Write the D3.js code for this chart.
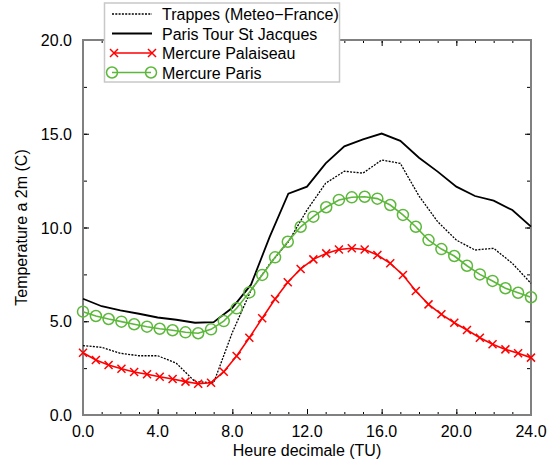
<!DOCTYPE html>
<html>
<head>
<meta charset="utf-8">
<script src="https://cdn.jsdelivr.net/npm/d3@7"></script>
<style>
    body { margin: 0; background: #fff; }
    text { font-family: "Liberation Sans", Arial, sans-serif; }
</style>
</head>
<body>
<div id="chart"></div>
<script>
// hourly stations
const hours = [0, 1, 2, 3, 4, 5, 6, 7, 8, 9, 10, 11, 12, 13, 14, 15, 16, 17, 18, 19, 20, 21, 22, 23, 24];
const trappes = [3.70, 3.61, 3.29, 3.16, 3.16, 2.76, 1.78, 1.72, 4.40, 6.65, 8.05, 9.24, 10.93, 12.36, 13.00, 12.90, 13.60, 13.42, 11.68, 10.31, 9.33, 8.80, 8.89, 8.09, 7.02];
const tourStJacques = [6.20, 5.80, 5.58, 5.40, 5.20, 5.08, 4.92, 4.95, 5.72, 6.95, 9.50, 11.80, 12.18, 13.42, 14.33, 14.70, 15.01, 14.62, 13.72, 12.98, 12.18, 11.68, 11.43, 10.93, 10.05];

// model output (Mercure)
const modelHours = [0, 0.69, 1.37, 2.06, 2.74, 3.43, 4.11, 4.80, 5.49, 6.17, 6.86, 7.54, 8.23, 8.91, 9.60, 10.29, 10.97, 11.66,
    12.34, 13.03, 13.71, 14.40, 15.09, 15.77, 16.46, 17.14, 17.83, 18.51, 19.20, 19.89, 20.57, 21.26, 21.94, 22.63, 23.31, 24.0];
const mercurePalaiseau = [3.32, 2.93, 2.67, 2.47, 2.29, 2.17, 2.04, 1.92, 1.78, 1.67, 1.72, 2.31, 3.15, 4.12, 5.16, 6.19, 7.08, 7.79,
    8.30, 8.62, 8.83, 8.89, 8.83, 8.53, 8.09, 7.47, 6.61, 5.90, 5.37, 4.92, 4.53, 4.12, 3.77, 3.50, 3.29, 3.06];
const mercureParis = [5.51, 5.28, 5.12, 4.98, 4.84, 4.71, 4.60, 4.52, 4.41, 4.36, 4.57, 5.01, 5.69, 6.54, 7.47, 8.41, 9.24, 10.04,
    10.58, 11.08, 11.47, 11.61, 11.64, 11.54, 11.20, 10.67, 10.04, 9.33, 8.85, 8.48, 7.96, 7.50, 7.15, 6.76, 6.52, 6.28];

const xTicks = [0, 4, 8, 12, 16, 20, 24];
const yTicks = [0, 5, 10, 15, 20];
const legendNames = ["Trappes (Meteo\u2212France)", "Paris Tour St Jacques", "Mercure Palaiseau", "Mercure Paris"];

const W = 548, H = 463;
let margin = {top: 40, right: 17, bottom: 48, left: 83},
    width = W - margin.left - margin.right,
    height = H - margin.top - margin.bottom;

let svg = d3.select("#chart")
    .append("svg")
    .attr("width", W)
    .attr("height", H)
    .append("g")
    .attr("transform", "translate(" + margin.left + "," + margin.top + ")");

let x = d3.scaleLinear().domain([0, 24]).range([0, width]);
let y = d3.scaleLinear().domain([0, 20]).range([height, 0]);

const GREEN = "#5cb83a", RED = "#ff0000";

// minor + major ticks, inward, on all four sides
function tickAxes(axisFn, scale, vals, len, transform) {
    svg.append("g")
        .attr("transform", transform)
        .call(axisFn(scale).tickValues(vals).tickSize(-len).tickFormat(""))
        .call(g => g.select(".domain").remove())
        .selectAll("line").attr("stroke", "#000").attr("stroke-width", 1);
}
let minorX = d3.range(0, 25, 1), minorY = d3.range(0, 20.1, 2.5);
tickAxes(d3.axisBottom, x, minorX, 3, "translate(0," + height + ")");
tickAxes(d3.axisTop, x, minorX, 3, "translate(0,0)");
tickAxes(d3.axisLeft, y, minorY, 4, "translate(0,0)");
tickAxes(d3.axisRight, y, minorY, 4, "translate(" + width + ",0)");
tickAxes(d3.axisBottom, x, xTicks, 6, "translate(0," + height + ")");
tickAxes(d3.axisTop, x, xTicks, 6, "translate(0,0)");
tickAxes(d3.axisLeft, y, yTicks, 6, "translate(0,0)");
tickAxes(d3.axisRight, y, yTicks, 6, "translate(" + width + ",0)");

// frame
svg.append("rect")
    .attr("width", width).attr("height", height)
    .attr("fill", "none").attr("stroke", "#808080").attr("stroke-width", 2);

// tick labels
svg.selectAll(".xl").data(xTicks).enter().append("text")
    .attr("x", d => x(d)).attr("y", height + 22)
    .attr("text-anchor", "middle").attr("font-size", 16)
    .text(d => d.toFixed(1));
svg.selectAll(".yl").data(yTicks).enter().append("text")
    .attr("x", -11).attr("y", d => y(d) + 6)
    .attr("text-anchor", "end").attr("font-size", 16)
    .text(d => d.toFixed(1));

// axis titles
svg.append("text")
    .attr("x", width / 2).attr("y", height + 41)
    .attr("text-anchor", "middle").attr("font-size", 16)
    .text("Heure decimale (TU)");
svg.append("text")
    .attr("transform", "translate(" + (27 - margin.left) + "," + (height / 2) + ") rotate(-90)")
    .attr("text-anchor", "middle").attr("font-size", 16)
    .text("Temperature a 2m (C)");

// lines
let line = d3.line().x(d => x(d[0])).y(d => y(d[1]));
let obsT = d3.zip(hours, trappes), obsP = d3.zip(hours, tourStJacques);
let modPal = d3.zip(modelHours, mercurePalaiseau), modPar = d3.zip(modelHours, mercureParis);

svg.append("path").datum(obsT).attr("d", line)
    .attr("fill", "none").attr("stroke", "#000").attr("stroke-width", 1.3).attr("stroke-dasharray", "2,1.3");
svg.append("path").datum(obsP).attr("d", line)
    .attr("fill", "none").attr("stroke", "#000").attr("stroke-width", 1.8);

function crosses(g, pts, s) {
    g.selectAll(".cx").data(pts).enter().append("path")
        .attr("d", d => {
            let cx = x(d[0]), cy = y(d[1]);
            return "M" + (cx - s) + "," + (cy - s) + "L" + (cx + s) + "," + (cy + s) +
                "M" + (cx - s) + "," + (cy + s) + "L" + (cx + s) + "," + (cy - s);
        })
        .attr("stroke", RED).attr("stroke-width", 1.5);
}

let gPal = svg.append("g");
gPal.append("path").datum(modPal).attr("d", line)
    .attr("fill", "none").attr("stroke", RED).attr("stroke-width", 1.6);
crosses(gPal, modPal, 4);

let gPar = svg.append("g");
gPar.append("path").datum(modPar).attr("d", line)
    .attr("fill", "none").attr("stroke", GREEN).attr("stroke-width", 1.6);
gPar.selectAll("circle").data(modPar).enter().append("circle")
    .attr("cx", d => x(d[0])).attr("cy", d => y(d[1])).attr("r", 5.5)
    .attr("fill", "none").attr("stroke", GREEN).attr("stroke-width", 1.5);

// legend
let leg = d3.select("svg").append("g");
leg.append("rect")
    .attr("x", 104.5).attr("y", 3).attr("width", 235).attr("height", 79)
    .attr("fill", "#fff").attr("stroke", "#c8c8c8").attr("stroke-width", 1.5);
let rowY = [14, 33.5, 53, 72.5];
leg.append("line").attr("x1", 112).attr("x2", 152).attr("y1", rowY[0]).attr("y2", rowY[0])
    .attr("stroke", "#000").attr("stroke-width", 1.3).attr("stroke-dasharray", "2,1.3");
leg.append("line").attr("x1", 112).attr("x2", 152).attr("y1", rowY[1]).attr("y2", rowY[1])
    .attr("stroke", "#000").attr("stroke-width", 1.8);
leg.append("line").attr("x1", 114).attr("x2", 152).attr("y1", rowY[2]).attr("y2", rowY[2])
    .attr("stroke", RED).attr("stroke-width", 1.6);
[114, 152].forEach(cx => {
    let s = 4, cy = rowY[2];
    leg.append("path")
        .attr("d", "M" + (cx - s) + "," + (cy - s) + "L" + (cx + s) + "," + (cy + s) +
            "M" + (cx - s) + "," + (cy + s) + "L" + (cx + s) + "," + (cy - s))
        .attr("stroke", RED).attr("stroke-width", 1.5);
});
leg.append("line").attr("x1", 112).attr("x2", 151).attr("y1", rowY[3]).attr("y2", rowY[3])
    .attr("stroke", GREEN).attr("stroke-width", 1.6);
[112, 151].forEach(cx => {
    leg.append("circle").attr("cx", cx).attr("cy", rowY[3]).attr("r", 5.5)
        .attr("fill", "none").attr("stroke", GREEN).attr("stroke-width", 1.5);
});
leg.selectAll(".lt").data(legendNames).enter().append("text")
    .attr("x", 162).attr("y", (d, i) => rowY[i] + 6)
    .attr("font-size", 16)
    .text(d => d);
</script>
</body>
</html>
